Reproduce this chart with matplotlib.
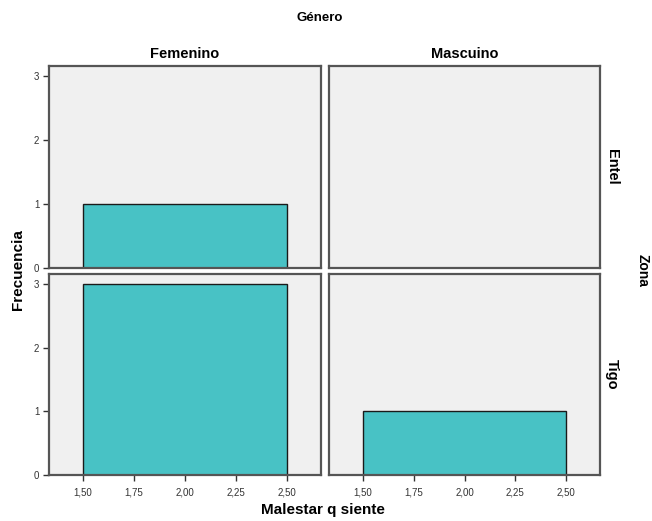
import matplotlib
matplotlib.use('Agg')
import matplotlib.pyplot as plt
from matplotlib.ticker import FuncFormatter

plt.rcParams['font.family'] = ['Liberation Sans', 'DejaVu Sans']

generos = ['Femenino', 'Mascuino']
zonas = ['Entel', 'Tigo']
bin_left = [1.5]
bin_width = 1.0
# counts[zona][genero]
counts = {
    'Entel': {'Femenino': [1], 'Mascuino': [0]},
    'Tigo': {'Femenino': [3], 'Mascuino': [1]},
}
x_ticks = [1.50, 1.75, 2.00, 2.25, 2.50]
y_ticks = [0, 1, 2, 3]

W, H = 652, 521
fig = plt.figure(figsize=(W / 100, H / 100), dpi=100)

col_x = [(49, 272), (329, 271)]
row_y = [(66, 268), (274, 475)]

bg = '#f0f0f0'
bar_c = '#48c2c5'
frame_c = '#555555'

comma = FuncFormatter(lambda v, p: ('%.2f' % v).replace('.', ','))

for r, zona in enumerate(zonas):
    for c, gen in enumerate(generos):
        x0, w = col_x[c]
        ytop, ybot = row_y[r]
        ax = fig.add_axes([x0 / W, 1 - ybot / H, w / W, (ybot - ytop) / H])
        ax.set_facecolor(bg)
        vals = counts[zona][gen]
        vals_draw = [v for v in vals if v > 0]
        lefts = [b for b, v in zip(bin_left, vals) if v > 0]
        ax.bar(lefts, vals_draw, width=bin_width, align='edge',
               color=bar_c, edgecolor='#1a1a1a', linewidth=1.0, zorder=2)
        ax.set_xlim(1.333, 2.667)
        ax.set_ylim(0, 3.156)
        for s in ax.spines.values():
            s.set_color(frame_c)
            s.set_linewidth(1.6)
        ax.set_xticks(x_ticks)
        ax.set_yticks(y_ticks)
        ax.xaxis.set_major_formatter(comma)
        ax.tick_params(axis='both', direction='out', length=4, width=1,
                       color='#333333', labelsize=7, labelcolor='#333333', pad=3)
        ax.tick_params(axis='x', pad=5)
        if r == 0:
            ax.tick_params(axis='x', bottom=False, labelbottom=False)
        if c == 1:
            ax.tick_params(axis='y', left=False, labelleft=False)
        if r == 0:
            ax.set_title(gen, fontsize=10.5, fontweight='bold', pad=6)
        if c == 1:
            ax.text(1.045, 0.5, zona, transform=ax.transAxes, rotation=-90,
                    ha='center', va='center', fontsize=10.5, fontweight='bold')

fig.text(320 / W, 1 - 18 / H, 'Género', ha='center', va='center',
         fontsize=9.5, fontweight='bold')
fig.text(643 / W, 1 - 270 / H, 'Zona', ha='center', va='center',
         rotation=-90, fontsize=10, fontweight='bold')
fig.text(18 / W, 1 - 270 / H, 'Frecuencia', ha='center', va='center',
         rotation=90, fontsize=11, fontweight='bold')
fig.text(323 / W, 1 - 510 / H, 'Malestar q siente', ha='center', va='center',
         fontsize=11, fontweight='bold')

fig.savefig('out.png', dpi=100, facecolor='white')
